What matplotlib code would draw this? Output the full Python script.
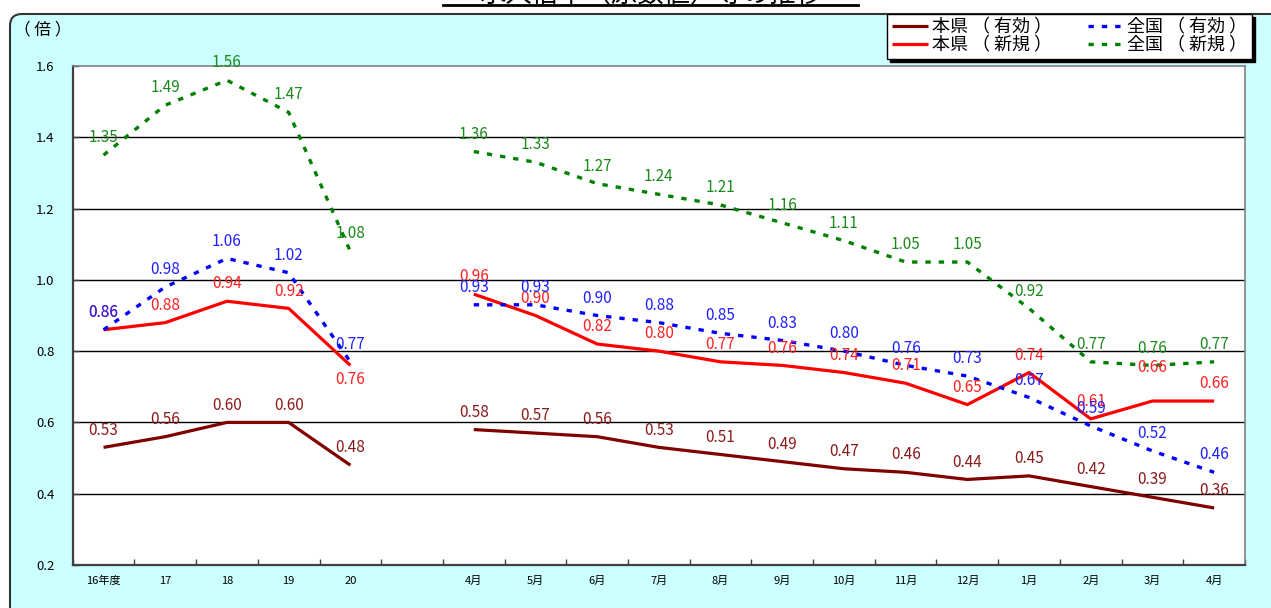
import matplotlib
matplotlib.use("Agg")
import matplotlib.pyplot as plt
from matplotlib.patches import FancyBboxPatch
from matplotlib.lines import Line2D

plt.rcParams["font.family"] = ["Noto Sans CJK JP", "DejaVu Sans"]

# ---- data ----
categories = ["16年度", "17", "18", "19", "20", "",
              "4月", "5月", "6月", "7月", "8月", "9月", "10月",
              "11月", "12月", "1月", "2月", "3月", "4月"]
annual_x = [0, 1, 2, 3, 4]
month_x = list(range(6, 19))

ken_yuko_y = [0.53, 0.56, 0.60, 0.60, 0.48]
ken_yuko_m = [0.58, 0.57, 0.56, 0.53, 0.51, 0.49, 0.47, 0.46, 0.44, 0.45, 0.42, 0.39, 0.36]
ken_shinki_y = [0.86, 0.88, 0.94, 0.92, 0.76]
ken_shinki_m = [0.96, 0.90, 0.82, 0.80, 0.77, 0.76, 0.74, 0.71, 0.65, 0.74, 0.61, 0.66, 0.66]
zen_yuko_y = [0.86, 0.98, 1.06, 1.02, 0.77]
zen_yuko_m = [0.93, 0.93, 0.90, 0.88, 0.85, 0.83, 0.80, 0.76, 0.73, 0.67, 0.59, 0.52, 0.46]
zen_shinki_y = [1.35, 1.49, 1.56, 1.47, 1.08]
zen_shinki_m = [1.36, 1.33, 1.27, 1.24, 1.21, 1.16, 1.11, 1.05, 1.05, 0.92, 0.77, 0.76, 0.77]

series = [
    # label, annual, monthly, line colour, text colour, style
    ("本県 （ 有効 ）", ken_yuko_y, ken_yuko_m, "#800000", "#8B1A1A", "solid"),
    ("本県 （ 新規 ）", ken_shinki_y, ken_shinki_m, "#FF0000", "#FF2020", "solid"),
    ("全国 （ 有効 ）", zen_yuko_y, zen_yuko_m, "#0000FF", "#2020FF", "dashed"),
    ("全国 （ 新規 ）", zen_shinki_y, zen_shinki_m, "#008000", "#1A8A1A", "dashed"),
]
# label offsets (points) that differ from the default "above"
label_offsets = {("本県 （ 新規 ）", 4): -10, ("本県 （ 新規 ）", 16): 24}

fig = plt.figure(figsize=(12.71, 6.08), dpi=100)
fig.patch.set_facecolor("white")

# cyan rounded frame
frame = FancyBboxPatch((0.10, -1.0), 14.0, 5.94 + 1.0,
                       boxstyle="round,pad=0,rounding_size=0.12",
                       transform=fig.dpi_scale_trans, facecolor="#CCFFFF",
                       edgecolor="#333333", linewidth=1.5, zorder=-5)
fig.patches.append(frame)

# title (cut off at the top in the reference)
fig.text(0.512, 1 - 2.5 / 608, "求人倍率（原数値）等の推移", ha="center",
         va="baseline", fontsize=19, color="black")
fig.add_artist(Line2D([443 / 1271, 858 / 1271], [1 - 5 / 608] * 2,
                      color="black", lw=2, transform=fig.transFigure))

ax = fig.add_axes([72.7 / 1271, 43 / 608, (1245 - 72.7) / 1271, (565 - 66) / 608])
ax.set_facecolor("white")
ax.set_zorder(1)

handles = []
for name, ann, mon, lc, tc, st in series:
    if st == "solid":
        kw = dict(linestyle="-", lw=2.3)
    else:
        kw = dict(linestyle=(0, (1.6, 2.4)), lw=2.4)
    ax.plot(annual_x, ann, color=lc, solid_capstyle="butt", zorder=3, **kw)
    h, = ax.plot(month_x, mon, color=lc, solid_capstyle="butt", zorder=3, **kw)
    handles.append(h)
    for i, (x, v) in enumerate(zip(annual_x + month_x, ann + mon)):
        dy = label_offsets.get((name, i), 12.5)
        ax.annotate(f"{v:.2f}", (x, v), xytext=(0, dy), textcoords="offset points",
                    ha="center", va="center", fontsize=11, color=tc, zorder=4)

ax.set_xlim(-0.5, 18.5)
ax.set_ylim(0.2, 1.6)
ax.set_yticks([0.2, 0.4, 0.6, 0.8, 1.0, 1.2, 1.4, 1.6])
ax.set_yticklabels([f"{v:.1f}" for v in ax.get_yticks()], fontsize=9.5)
for g in [0.4, 0.6, 0.8, 1.0, 1.2, 1.4]:
    ax.axhline(g, color="black", lw=1, zorder=1)

ax.set_xticks(range(len(categories)))
ax.set_xticklabels(categories, fontsize=8)
ax.set_xticks([k + 0.5 for k in range(-1, 19)], minor=True)
ax.tick_params(axis="x", which="major", length=0, pad=8)
ax.tick_params(axis="x", which="minor", direction="in", length=4, width=1, color="#404040")
ax.tick_params(axis="y", direction="in", length=4, width=1, color="#404040", pad=13)

for s in ["left", "bottom"]:
    ax.spines[s].set_color("#404040")
    ax.spines[s].set_linewidth(1.6)
for s in ["top", "right"]:
    ax.spines[s].set_color("#808080")
    ax.spines[s].set_linewidth(1.2)

fig.text(43 / 1271, 1 - 30 / 608, "（ 倍 ）", ha="center", va="center", fontsize=12)

leg = fig.legend(handles, [s[0] for s in series], ncol=2, loc="upper right",
                 bbox_to_anchor=(1252 / 1271, 1 - 14 / 608), borderaxespad=0,
                 fontsize=13, frameon=True, fancybox=False,
                 shadow={"color": "black", "alpha": 1}, handlelength=2.0,
                 handletextpad=0.2, columnspacing=2.0, labelspacing=0.0,
                 borderpad=0.25)
leg.get_frame().set_edgecolor("black")
leg.get_frame().set_linewidth(1)
leg.set_zorder(5)

fig.savefig("out.png", dpi=100)
